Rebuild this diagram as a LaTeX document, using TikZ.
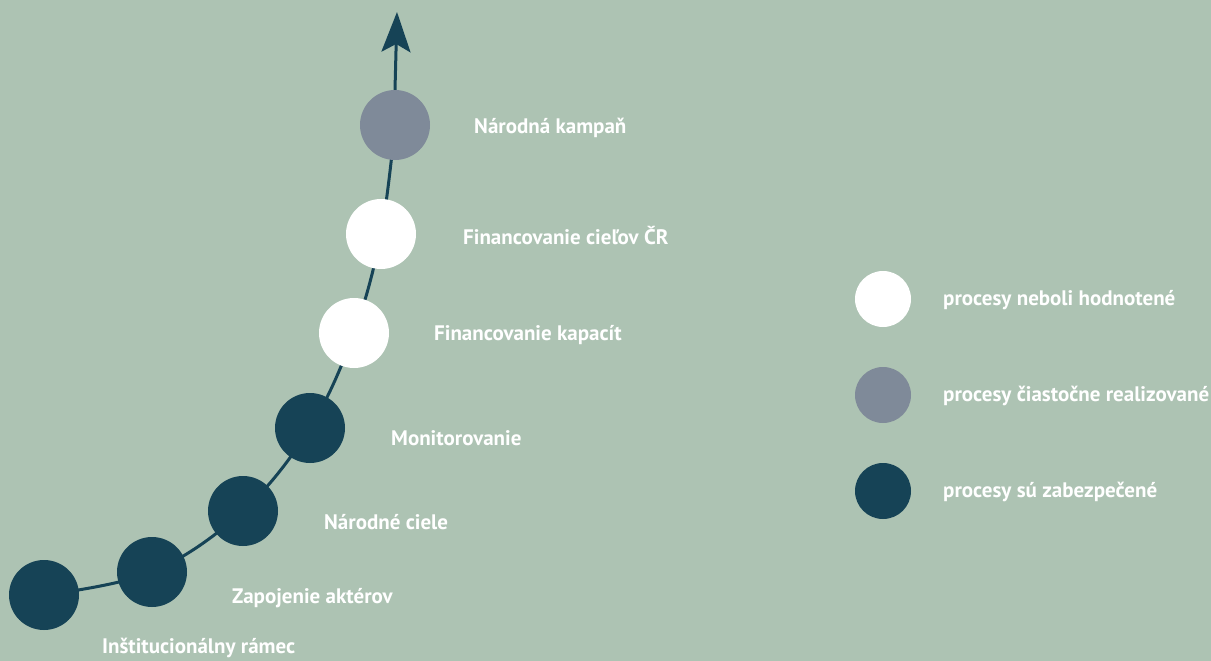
\documentclass[tikz,border=0pt]{standalone}
\usepackage{fontspec}
\setmainfont{PT Sans}
\usetikzlibrary{arrows.meta,backgrounds}
\definecolor{bg}{HTML}{ADC3B3}
\definecolor{dark}{HTML}{164356}
\definecolor{midgray}{HTML}{7F8A99}
\tikzset{
  stage/.style={circle, minimum size=70pt, inner sep=0pt},
  done/.style={stage, fill=dark},
  partial/.style={stage, fill=midgray},
  open/.style={stage, fill=white},
  legdot/.style={circle, minimum size=56pt, inner sep=0pt},
  lab/.style={anchor=west, text=white, font=\fontsize{21}{23}\selectfont\bfseries, inner sep=0pt},
  path line/.style={draw=dark, line width=3pt}
}
\begin{document}
\begin{tikzpicture}[x=1pt,y=-1pt]
\useasboundingbox (0,0) rectangle (1211,661);
\node[done]    (c1) at (44,595) {};
\node[done]    (c2) at (152,572) {};
\node[done]    (c3) at (243,511) {};
\node[done]    (c4) at (310,428) {};
\node[open]    (c5) at (354,333) {};
\node[open]    (c6) at (381,234) {};
\node[partial] (c7) at (395,125) {};
\coordinate (tip) at (397,12);
\begin{pgfonlayer}{background}
  \fill[bg] (0,0) rectangle (1211,661);
  \draw[path line] plot[smooth, tension=0.6] coordinates {(c1) (c2) (c3) (c4) (c5) (c6) (c7)};
\end{pgfonlayer}
\draw[path line, -{Stealth[length=40pt,width=29pt,inset=8pt]}] (c7.north) -- (tip);

\node[lab] (l7) at (474,128) {Národná kampaň};
\node[lab] (l6) at (463,236) {Financovanie cieľov ČR};
\node[lab] (l5) at (434,335) {Financovanie kapacít};
\node[lab] (l4) at (391,438) {Monitorovanie};
\node[lab] (l3) at (324,522) {Národné ciele};
\node[lab] (l2) at (232,598) {Zapojenie aktérov};
\node[lab] (l1) at (102,648) {Inštitucionálny rámec};

\node[legdot, fill=white]    (g1) at (883,299) {};
\node[legdot, fill=midgray]  (g2) at (883,395) {};
\node[legdot, fill=dark]     (g3) at (883,491) {};
\node[lab] (t1) at (943,300) {procesy neboli hodnotené};
\node[lab] (t2) at (943,396) {procesy čiastočne realizované};
\node[lab] (t3) at (943,492) {procesy sú zabezpečené};
\end{tikzpicture}
\end{document}
